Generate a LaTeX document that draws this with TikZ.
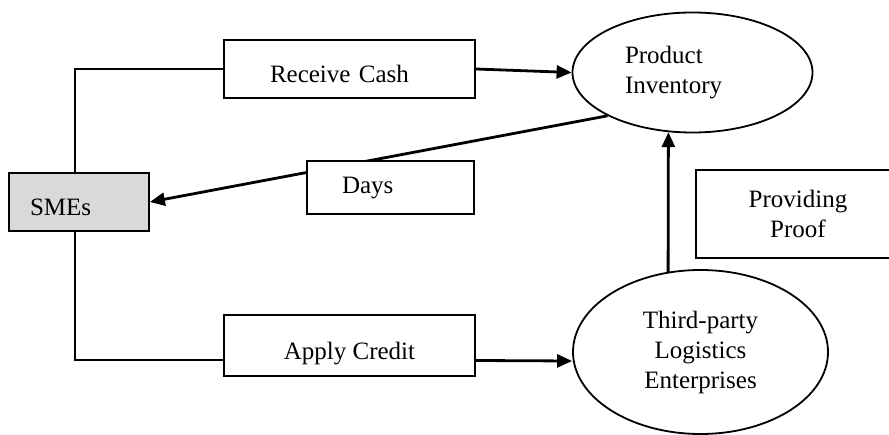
\documentclass[tikz,border=0pt]{standalone}
\usepackage{fontspec}
\setmainfont{Liberation Serif}
\usetikzlibrary{shapes,arrows.meta}

\begin{document}
\begin{tikzpicture}[x=1pt,y=-1pt,
  txt/.style={font=\fontsize{25}{30}\selectfont},
  box/.style={txt,draw,rectangle,line width=1.8pt,fill=white,text height=28pt,text depth=0pt},
  oval/.style={txt,draw,ellipse,line width=1.8pt,fill=white},
  link/.style={line width=1.8pt},
  arr/.style={line width=2.8pt,-{Triangle[length=15pt,width=13pt]}}]
\clip (0,0) rectangle (889,435);

\node[box,fill=black!15,minimum width=140pt,minimum height=58pt,text width=98pt,align=left] (sme) at (79,202) {SMEs};
\node[box,minimum width=251pt,minimum height=58pt,text width=159pt,align=left] (rc) at (349.5,69) {Receive Cash};
\node[box,minimum width=251pt,minimum height=61pt] (ac) at (349.5,345.5) {Apply Credit};

\node[oval,minimum width=240pt,minimum height=120pt,text width=135pt,align=left] (pi) at (692.5,72.5) {Product\\Inventory};
\node[oval,minimum width=255pt,minimum height=164pt,align=center] (tp) at (700.5,352) {Third-party\\Logistics\\Enterprises};

\node[txt,draw,rectangle,line width=1.8pt,minimum width=204pt,minimum height=88pt,align=center] (pp) at (798,214) {Providing\\Proof};

\draw[link] ([xshift=-4pt]sme.north) |- (rc.west);
\draw[link] ([xshift=-4pt]sme.south) |- ([yshift=-14.5pt]ac.west);

\draw[arr] (rc.east) -- (pi.west);
\draw[arr] (pi.207) -- (sme.east);
\draw[arr] ([yshift=-15pt]ac.east) -- ([yshift=-9pt]tp.west);
\draw[arr] (tp.112) -- (pi.248);

\node[box,minimum width=167pt,minimum height=53pt,text width=97pt,align=left,text height=13pt] (dy) at (390.5,187.5) {Days};

\end{tikzpicture}
\end{document}
